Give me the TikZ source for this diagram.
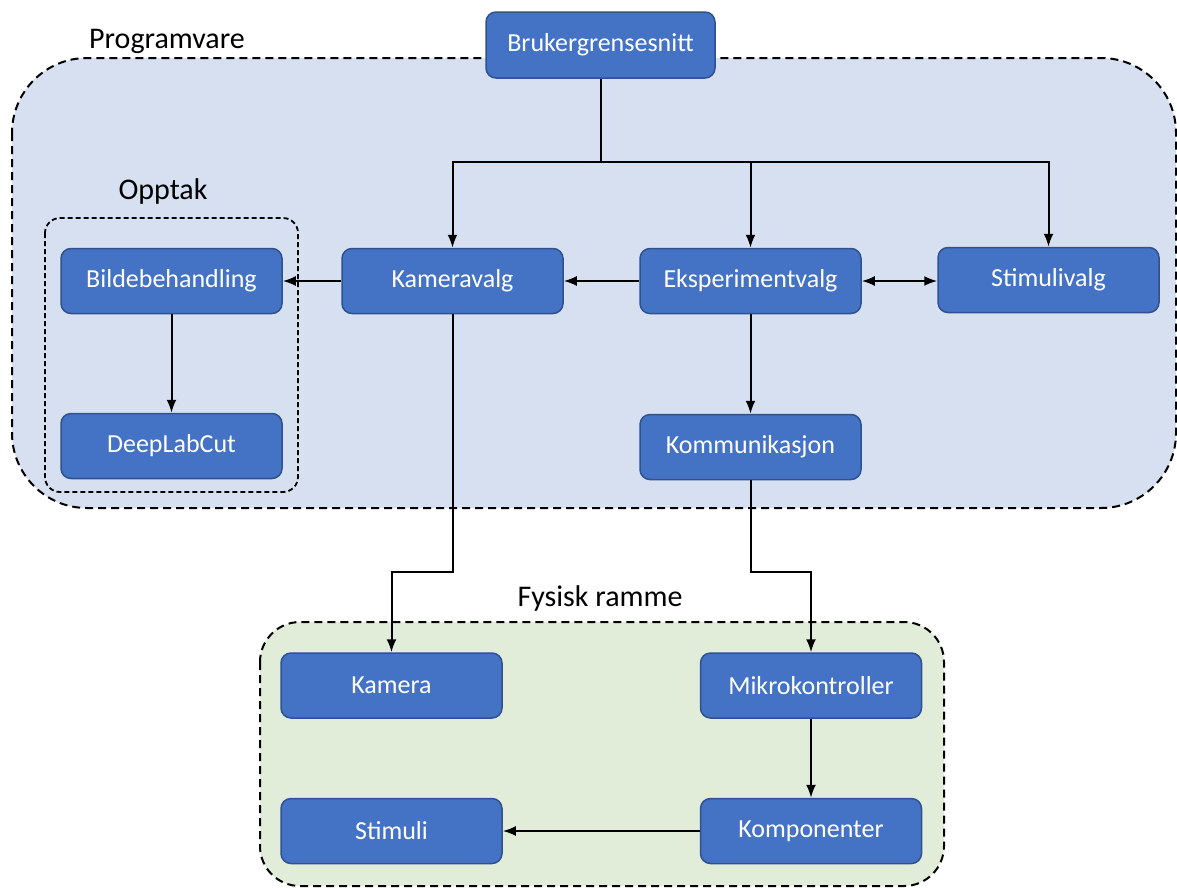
\documentclass[tikz,border=0pt]{standalone}
\usepackage{fontspec}
\setmainfont{Carlito}
\usetikzlibrary{arrows.meta}
\definecolor{boxblue}{HTML}{4472C4}
\definecolor{boxedge}{HTML}{2F528F}
\definecolor{softblue}{HTML}{D6E0F1}
\definecolor{softgreen}{HTML}{E1EDD8}
\tikzset{
  blk/.style={draw=boxedge, line width=1.5pt, fill=boxblue, rounded corners=10pt,
    minimum width=221pt, minimum height=65pt, text=white, inner sep=0pt,
    font=\fontsize{26}{30}\selectfont},
  grp/.style={font=\fontsize{30}{36}\selectfont, text=black},
  conn/.style={line width=2pt, -{Latex[length=13pt,width=10pt]}},
  biconn/.style={line width=2pt, {Latex[length=13pt,width=10pt]}-{Latex[length=13pt,width=10pt]}},
  frame/.style={line width=2pt, dash pattern=on 8pt off 5pt},
  subframe/.style={line width=1.8pt, dash pattern=on 5pt off 3pt}
}
\begin{document}
\begin{tikzpicture}[x=1pt,y=-1pt]
\useasboundingbox (0,0) rectangle (1177,887);
% group frames
\draw[frame, fill=softblue, rounded corners=75pt] (12,58) rectangle (1176,508);
\draw[frame, fill=softgreen, rounded corners=40pt] (260,622) rectangle (944,886);
\draw[subframe, rounded corners=15pt] (45,218) rectangle (298,492);
\node[grp] (lprog) at (167,41) {Programvare};
\node[grp] (lopp) at (163,191) {Opptak};
\node[grp] (lfys) at (600,598) {Fysisk ramme};
% blocks
\node[blk, minimum width=229pt, minimum height=66pt] (bg) at (600.5,45) {Brukergrensesnitt};
\node[blk] (bb) at (171.5,281) {Bildebehandling};
\node[blk] (dlc) at (171.5,446) {DeepLabCut};
\node[blk] (kv) at (452.5,281) {Kameravalg};
\node[blk] (ev) at (750.5,281) {Eksperimentvalg};
\node[blk] (sv) at (1048.5,280) {Stimulivalg};
\node[blk] (ko) at (750.5,447) {Kommunikasjon};
\node[blk] (ka) at (391.5,685.5) {Kamera};
\node[blk] (mk) at (811,685.5) {Mikrokontroller};
\node[blk] (st) at (391.5,831) {Stimuli};
\node[blk] (kp) at (811,831) {Komponenter};
% junctions
\coordinate (j) at (600.5,162);
\coordinate (ja) at (452.5,572);
\coordinate (jb) at (750.5,572);
% connectors
\draw[line width=2pt] (bg.south) -- (j);
\draw[conn] (j) -| (kv.north);
\draw[conn] (j) -| (ev.north);
\draw[conn] (j) -| (sv.north);
\draw[conn] (kv.west) -- (bb.east);
\draw[conn] (ev.west) -- (kv.east);
\draw[biconn] (ev.east) -- (sv.west |- ev.east);
\draw[conn] (ev.south) -- (ko.north);
\draw[conn] (bb.south) -- (dlc.north);
\draw[conn] (kv.south) -- (ja) -| (ka.north);
\draw[conn] (ko.south) -- (jb) -| (mk.north);
\draw[conn] (mk.south) -- (kp.north);
\draw[conn] (kp.west) -- (st.east);
\end{tikzpicture}
\end{document}
